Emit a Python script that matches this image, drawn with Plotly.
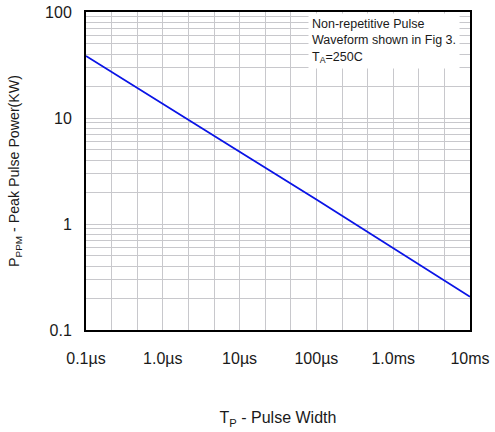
import plotly.graph_objects as go
import numpy as np

# Data (pulse width in microseconds, peak pulse power in kW)
pulse_width_us = [0.1, 1.0, 10.0, 100.0, 1000.0, 10000.0]
peak_power_kw = [38.5, 13.5, 4.8, 1.7, 0.59, 0.206]

x_tick_vals = [0.1, 1.0, 10.0, 100.0, 1000.0, 10000.0]
x_tick_text = ["0.1µs", "1.0µs", "10µs", "100µs", "1.0ms", "10ms"]
y_tick_vals = [0.1, 1, 10, 100]
y_tick_text = ["0.1", "1", "10", "100"]

# x grid: three equal steps per decade
x_grid = [10 ** (k / 3) for k in range(-3, 13)]
x_minor = [v for v in x_grid if abs(np.log10(v) - round(np.log10(v))) > 1e-6]
y_minor = [m * 10 ** d for d in range(-1, 2) for m in range(2, 10)]

FONT = "Liberation Sans, Arial, sans-serif"
GRID = "#c8c8cc"

fig = go.Figure()
fig.add_trace(go.Scatter(
    x=pulse_width_us, y=peak_power_kw, mode="lines",
    line=dict(color="#0a14e6", width=1.8), showlegend=False, hoverinfo="skip"))

fig.update_xaxes(
    type="log", range=[-1, 4], automargin=False,
    tickvals=x_tick_vals, ticktext=x_tick_text,
    tickfont=dict(family=FONT, size=16, color="#1a1a1a"),
    ticklabelstandoff=13,
    showgrid=True, gridcolor=GRID, gridwidth=1,
    minor=dict(tickvals=x_minor, showgrid=True, gridcolor=GRID, gridwidth=1, ticks=""),
    ticks="", showline=True, linecolor="black", linewidth=2, mirror=True,
    zeroline=False,
)
fig.update_yaxes(
    type="log", range=[-1, 2], automargin=False,
    tickvals=y_tick_vals, ticktext=y_tick_text,
    tickfont=dict(family=FONT, size=16, color="#1a1a1a"),
    ticklabelstandoff=9,
    showgrid=True, gridcolor=GRID, gridwidth=1,
    minor=dict(tickvals=y_minor, showgrid=True, gridcolor=GRID, gridwidth=1, ticks=""),
    ticks="", showline=True, linecolor="black", linewidth=2, mirror=True,
    zeroline=False,
)

annotations = [dict(
    x=0.578, y=0.997, xref="paper", yref="paper",
    text="Non-repetitive Pulse<br>Waveform shown in Fig 3.<br>T<sub>A</sub>=250C",
    showarrow=False, xanchor="left", yanchor="top", align="left",
    bgcolor="white", borderpad=3,
    font=dict(family=FONT, size=12.5, color="#1a1a1a"))]

fig.update_layout(
    width=495, height=432,
    margin=dict(l=86, r=25, t=12, b=102),
    paper_bgcolor="white", plot_bgcolor="white",
    font=dict(family=FONT, size=16, color="#1a1a1a"),
    annotations=annotations,
    xaxis_title=dict(text="T<sub>P</sub> - Pulse Width",
                     font=dict(family=FONT, size=16), standoff=46),
    yaxis_title=dict(text="P<sub>PPM</sub> - Peak Pulse Power(KW)",
                     font=dict(family=FONT, size=14.2), standoff=22),
)

fig.write_html("out.html")
